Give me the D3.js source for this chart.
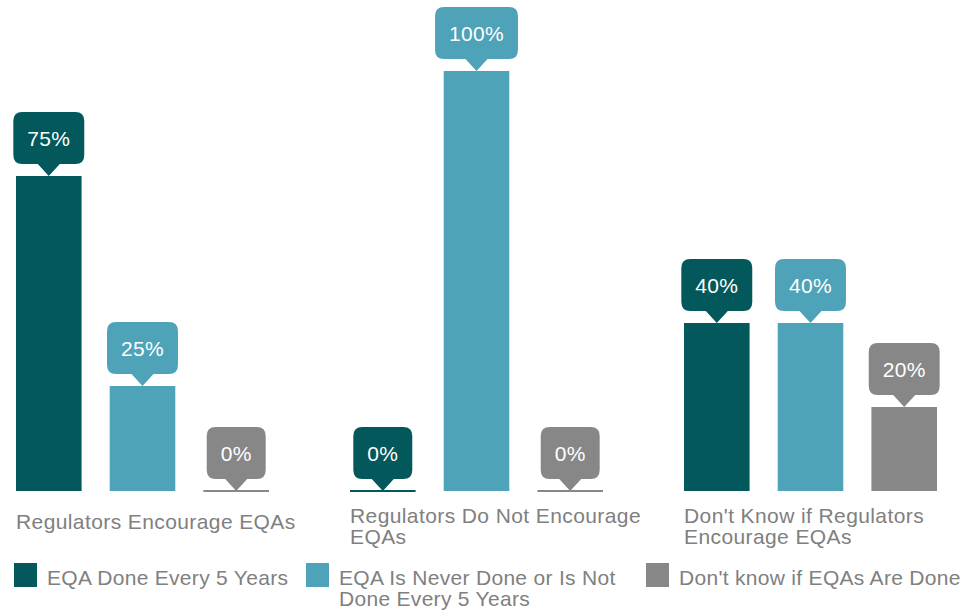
<!DOCTYPE html>
<html>
<head>
<meta charset="utf-8">
<script src="https://cdn.jsdelivr.net/npm/d3@7"></script>
<style>
  html, body { margin: 0; padding: 0; background: #fff; }
  svg { display: block; }
</style>
</head>
<body>
<svg></svg>
<script>
// data
var categories = ["Regulators Encourage EQAs", "Regulators Do Not Encourage EQAs", "Don't Know if Regulators Encourage EQAs"]
var seriesNames = ["EQA Done Every 5 Years", "EQA Is Never Done or Is Not Done Every 5 Years", "Don't know if EQAs Are Done"]
var doneEvery5 = [75, 0, 40]
var neverOrNot5 = [25, 100, 40]
var dontKnow = [0, 0, 20]
var seriesValues = [doneEvery5, neverOrNot5, dontKnow]

var colors = ["#02585a", "#4ea3b8", "#878787"]
var textColor = "#808080"
var width = 976
var height = 610
var font = "'Liberation Sans', Arial, sans-serif"

const svg = d3.select("svg")
	.attr("width", width)
	.attr("height", height)
	.attr("viewBox", [0, 0, width, height])
	.style("font-family", font);

const x0 = d3.scaleBand()
	.domain(categories)
	.range([16, 937])
	.paddingInner(0.2425)
	.paddingOuter(0);

const x1 = d3.scaleBand()
	.domain(d3.range(seriesNames.length))
	.range([0, x0.bandwidth()])
	.paddingInner(0.3)
	.paddingOuter(0);

const y = d3.scaleLinear()
	.domain([0, 100])
	.range([491, 71]);

// flatten into one row per bar
const rows = [];
categories.forEach(function(c, ci){
	seriesValues.forEach(function(vals, si){
		rows.push({cat: c, series: si, value: vals[ci]});
	});
});

const group = svg.append("g")
	.selectAll("g")
	.data(categories)
	.join("g")
	.attr("transform", d => `translate(${x0(d)},0)`);

const bar = group.selectAll("g")
	.data(c => rows.filter(r => r.cat === c))
	.join("g")
	.attr("class", "bar");

// zero values still show a thin line on the baseline
bar.append("rect")
	.attr("x", d => x1(d.series))
	.attr("y", d => Math.min(y(d.value), y(0) - 1))
	.attr("width", x1.bandwidth())
	.attr("height", d => Math.max(y(0) - y(d.value), 2))
	.attr("fill", d => colors[d.series]);

// callout labels
var padX = 14, boxH = 52, tipH = 12, tipW = 11, rad = 9
bar.each(function(d){
	const g = d3.select(this);
	const cx = x1(d.series) + x1.bandwidth() / 2;
	const tipY = y(d.value);
	const label = g.append("text")
		.text(d.value + "%")
		.attr("fill", "#fff")
		.attr("font-size", 21)
		.attr("letter-spacing", 0.3)
		.attr("text-anchor", "middle");
	const tw = label.node().getComputedTextLength();
	const w = tw + padX * 2;
	const bottom = tipY - tipH, top = bottom - boxH;
	const l = cx - w / 2, r = cx + w / 2;
	const p = d3.path();
	p.moveTo(l + rad, top);
	p.lineTo(r - rad, top);
	p.quadraticCurveTo(r, top, r, top + rad);
	p.lineTo(r, bottom - rad);
	p.quadraticCurveTo(r, bottom, r - rad, bottom);
	p.lineTo(cx + tipW, bottom);
	p.lineTo(cx, tipY);
	p.lineTo(cx - tipW, bottom);
	p.lineTo(l + rad, bottom);
	p.quadraticCurveTo(l, bottom, l, bottom - rad);
	p.lineTo(l, top + rad);
	p.quadraticCurveTo(l, top, l + rad, top);
	p.closePath();
	g.insert("path", "text")
		.attr("d", p.toString())
		.attr("fill", colors[d.series]);
	label.attr("x", cx).attr("y", top + boxH / 2 + 7.5);
});

// wraps text into tspans no wider than maxW
function wrap(textSel, str, maxW, x, lineH){
	const words = str.split(" ");
	let line = [];
	let tspan = textSel.append("tspan").attr("x", x);
	let n = 1;
	words.forEach(function(w){
		line.push(w);
		tspan.text(line.join(" "));
		if (tspan.node().getComputedTextLength() > maxW && line.length > 1) {
			line.pop();
			tspan.text(line.join(" "));
			line = [w];
			tspan = textSel.append("tspan").attr("x", x).attr("dy", lineH).text(w);
			n++;
		}
	});
	return n;
}

// category labels
group.each(function(c){
	const t = d3.select(this).append("text")
		.attr("fill", textColor)
		.attr("font-size", 21)
		.attr("letter-spacing", 0.4);
	const n = wrap(t, c, 310, 0, 21);
	t.attr("y", 529 - (n - 1) * 6);
});

// legend
var legendX = [14, 306, 646]
const legend = svg.append("g")
	.selectAll("g")
	.data(seriesNames)
	.join("g")
	.attr("transform", (d, i) => `translate(${legendX[i]},563)`);

legend.append("rect")
	.attr("width", 23)
	.attr("height", 24)
	.attr("fill", (d, i) => colors[i]);

legend.each(function(d){
	const t = d3.select(this).append("text")
		.attr("fill", textColor)
		.attr("font-size", 21)
		.attr("letter-spacing", 0.3)
		.attr("y", 22);
	wrap(t, d, 295, 33, 21);
});
</script>
</body>
</html>
